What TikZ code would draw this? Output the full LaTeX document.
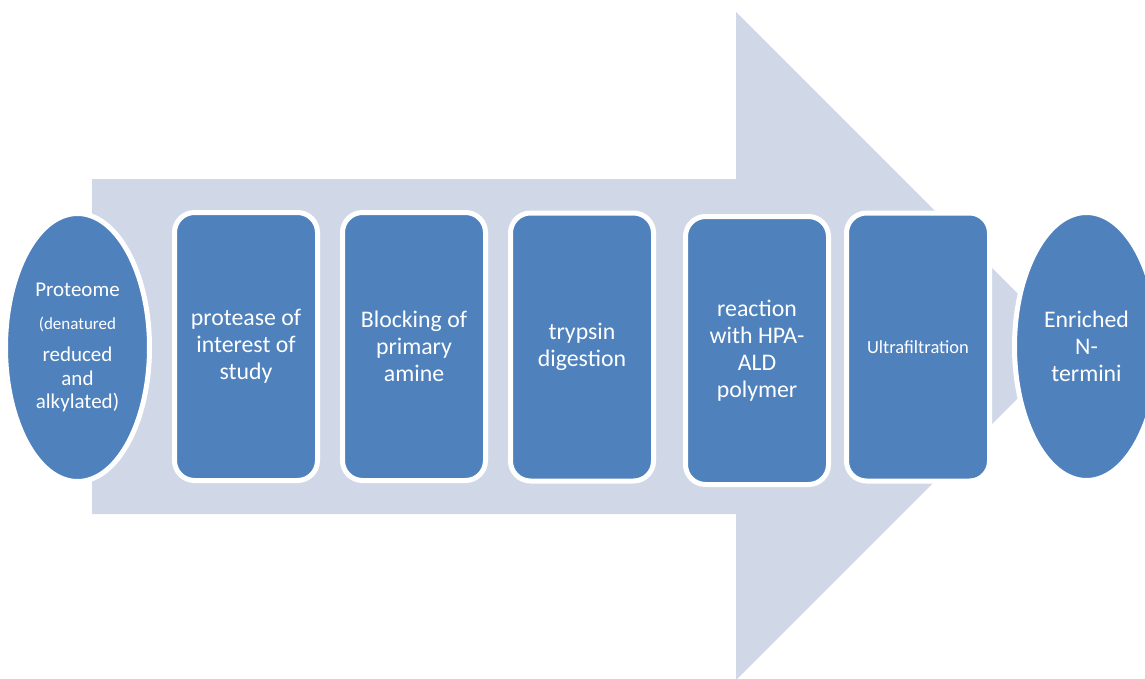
\documentclass[tikz,border=0pt]{standalone}
\usepackage{fontspec}
\setmainfont{Carlito}
\usetikzlibrary{shapes.geometric}
\definecolor{stepblue}{HTML}{4F81BD}
\definecolor{arrowtint}{HTML}{D0D8E8}
\tikzset{
  stepbox/.style={rectangle, rounded corners=20pt, fill=stepblue, draw=white,
    line width=5pt, minimum width=143pt, minimum height=268pt, inner sep=0pt,
    text=white, align=center, font=\fontsize{23.8}{27}\selectfont},
  endcap/.style={ellipse, fill=stepblue, draw=white, line width=5pt,
    minimum width=144pt, minimum height=268pt, inner sep=0pt,
    text=white, align=center, font=\fontsize{23.8}{27}\selectfont},
}
\begin{document}
\begin{tikzpicture}[x=1pt, y=-1pt]
  \useasboundingbox (0,0) rectangle (1145,678);
  \clip (0,0) rectangle (1145,678);

  % background block arrow
  \fill[arrowtint] (92,179) -- (736,179) -- (736,12) -- (1070,346)
    -- (736,680) -- (736,514) -- (92,514) -- cycle;

  % start and end ellipses
  \node[endcap, font=\fontsize{21}{23.5}\selectfont] (proteome) at (77.5,347.5)
    {Proteome\\[9pt]{\fontsize{17}{20}\selectfont(denatured}\\[9pt]reduced\\and\\alkylated)};
  \node[endcap] (enriched) at (1086.5,346.5) {Enriched\\N-\\termini};

  % process steps
  \node[stepbox] (protease) at (246,346.5) {protease of\\interest of\\study};
  \node[stepbox] (blocking) at (414,346.5) {Blocking of\\primary\\amine};
  \node[stepbox] (trypsin)  at (582,347)   {trypsin\\digestion};
  \node[stepbox] (reaction) at (757,350.5) {reaction\\with HPA-\\ALD\\polymer};
  \node[stepbox, font=\fontsize{18.5}{21}\selectfont] (ultra) at (918,347) {Ultrafiltration};
\end{tikzpicture}
\end{document}
